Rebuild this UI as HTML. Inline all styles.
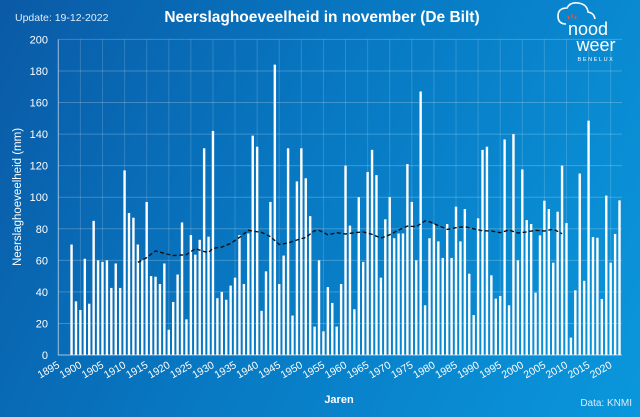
<!DOCTYPE html>
<html><head><meta charset="utf-8"><style>
html,body{margin:0;padding:0;width:640px;height:417px;overflow:hidden}
body{background:linear-gradient(115deg,#0a5aa6 0%,#0878c2 45%,#0a97dc 100%);font-family:"Liberation Sans",sans-serif}
svg{position:absolute;left:0;top:0}
</style></head><body>
<svg id="chart" width="640" height="417" xmlns="http://www.w3.org/2000/svg">
<text x="15" y="21" fill="#dfeefa" font-size="10.5">Update: 19-12-2022</text>
<text x="322" y="22" fill="#fff" font-size="15.5" font-weight="bold" text-anchor="middle">Neerslaghoeveelheid in november (De Bilt)</text>
<g>
<path d="M566,24 q-8,0 -8,-8 q0,-8 9,-8 q3,-6 11,-5 q9,1 10,9 q6,1 7,7" fill="none" stroke="#fff" stroke-width="1.6"/>
<path d="M569,19 l-1,-3 M572,18 l0,-4 M575,19 l1,-3" stroke="#e53" stroke-width="1.3"/>
<text x="588" y="35" fill="#fff" font-size="18" text-anchor="middle">nood</text>
<text x="596" y="51" fill="#fff" font-size="18" text-anchor="middle">weer</text>
<text x="596" y="61" fill="#fff" font-size="5.5" letter-spacing="1.6" text-anchor="middle">BENELUX</text>
</g>
<g id="grid"></g><g id="bars"></g><g id="axes"></g>
<path id="avg" fill="none" stroke="#111" stroke-width="1.4" stroke-dasharray="4,2.5"/>
<text transform="translate(21,197) rotate(-90)" fill="#fff" font-size="11.5" text-anchor="middle">Neerslaghoeveelheid (mm)</text>
<text x="339" y="403" fill="#fff" font-size="11" font-weight="bold" text-anchor="middle">Jaren</text>
<text x="632" y="406" fill="#d8ecf9" font-size="10" text-anchor="end">Data: KNMI</text>
</svg>
<script>
const startYear = 1898;
const rainfall = [70,34,28.5,61,32.5,85,60,59,60,42.5,58,42.5,117,90,87,70,60,97,50,49.6,45,58,16,33.6,51,84,22.6,76,63.6,73,131,75,142,36,40,35,
44,49,76,45,77,139,132,28,53,97,184,45,63,131,25,110,131,112,88,18,60,15,43,33,18,45,120,82,29,100,59,116,130,114,49,86,100,74,77,77,121,97,60,167,31.5,74,
83,72,61.5,83,61.5,94,72,92.5,51.5,25.3,86.6,130,132,50.5,35.7,37.4,136.6,31.5,140,60,117.6,85.5,83,39.5,75.8,97.8,92.5,58.5,90.8,120,83.6,11,41,115,47,148.5,74.8,74.3,35.5,101,58.5,76.7,98];
const avgYears = [1913,1915,1917,1919,1921,1923,1924,1926,1928,1929,1930,1932,1934,1936,1938,1939,1941,1943,1945,1947,1949,1951,1953,1954,1956,1958,1960,1962,1964,1966,1968,1970,1972,1974,1976,1978,1979,1981,1983,1985,1987,1989,1991,1993,1995,1997,1999,2001,2003,2005,2007,2009];
const avgValues = [58.7,61.7,66,64.4,63,63.4,63.6,67.4,65.5,65,67.6,68.4,70.7,74.5,79,78.5,77.7,75,70,71,72.9,74.5,78.8,79,76.2,77.5,76.7,77.5,78,76.5,74.1,76.2,79.2,81.7,81.3,85,84.5,82,79.6,80.7,81.3,80,78.8,78.6,77.5,79.2,77.3,78,79,78.6,79.8,76.9];
const yTicks = [0,20,40,60,80,100,120,140,160,180,200];
const xTicks = [1895,1900,1905,1910,1915,1920,1925,1930,1935,1940,1945,1950,1955,1960,1965,1970,1975,1980,1985,1990,1995,2000,2005,2010,2015,2020];

const NS='http://www.w3.org/2000/svg';
const X0=58.3, PX=4.419, Y0=355, PY=1.578, XR=622;
const xs=yr=>X0+(yr-1895)*PX;
const ys=v=>Y0-v*PY;
function mk(tag,attrs,parent){const e=document.createElementNS(NS,tag);for(const k in attrs)e.setAttribute(k,attrs[k]);parent.appendChild(e);return e;}
const grid=document.getElementById('grid'),bars=document.getElementById('bars'),axes=document.getElementById('axes');
yTicks.forEach(t=>{
  const l=mk('line',{x1:X0,x2:XR,y1:ys(t),y2:ys(t),stroke:'rgba(255,255,255,0.22)','stroke-width':1},grid);
  
  
  const tx=mk('text',{x:48,y:ys(t)+4,fill:'#fff','font-size':11,'text-anchor':'end'},axes);
  tx.textContent=t;
  
  
});
xTicks.forEach(t=>{
  const l=mk('line',{x1:xs(t),x2:xs(t),y1:ys(200),y2:Y0,stroke:'rgba(255,255,255,0.16)','stroke-width':1},grid);
  
  
  const tx=mk('text',{transform:`translate(${xs(t)+2},367) rotate(-30)`,fill:'#fff','font-size':10.5,'text-anchor':'end'},axes);
  tx.textContent=t;
  
  
});
const ax=mk('path',{d:`M${X0},${ys(200)}V${Y0}H${XR}`,fill:'none',stroke:'rgba(255,255,255,0.5)','stroke-width':1},axes);


rainfall.forEach((v,i)=>{
  const yr=startYear+i;
  const r=mk('rect',{x:xs(yr)-1.2,y:ys(v),width:2.4,height:v*PY,fill:'#fff'},bars);
  
  
});
document.getElementById('avg').setAttribute('d',avgYears.map((y,i)=>(i?'L':'M')+xs(y).toFixed(1)+','+ys(avgValues[i]).toFixed(1)).join(''));
</script>
</body></html>
